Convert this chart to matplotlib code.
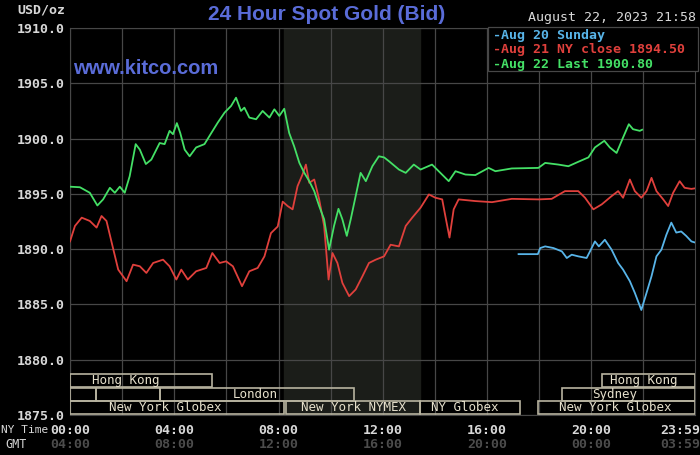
import matplotlib
matplotlib.use("Agg")
import matplotlib.pyplot as plt
import matplotlib.transforms as mtransforms
from matplotlib.patches import Rectangle

# ---- data (hours after NY midnight, USD/oz) ----
aug22_hours = [0.0, 0.38, 0.76, 1.05, 1.27, 1.53, 1.72, 1.91, 2.1, 2.29, 2.52, 2.68, 2.91, 3.12,
               3.44, 3.63, 3.82, 3.95, 4.1, 4.23, 4.4, 4.59, 4.84, 5.16, 5.42, 5.67, 5.93, 6.18,
               6.37, 6.56, 6.69, 6.88, 7.14, 7.39, 7.65, 7.84, 8.03, 8.22, 8.41, 8.6, 8.8, 8.99,
               9.18, 9.37, 9.56, 9.75, 9.94, 10.13, 10.3, 10.45, 10.62, 10.77, 10.96, 11.15, 11.35,
               11.6, 11.85, 12.05, 12.24, 12.62, 12.88, 13.19, 13.45, 13.89, 14.21, 14.53, 14.79,
               15.17, 15.55, 16.06, 16.32, 16.95, 17.97, 18.23, 18.74, 19.12, 19.5, 19.89, 20.14,
               20.5, 20.71, 20.97, 21.22, 21.44, 21.6, 21.86, 21.95]
aug22_price = [1895.65, 1895.6, 1895.1, 1893.95, 1894.5, 1895.55, 1895.1, 1895.65, 1895.1, 1896.6,
               1899.5, 1899.0, 1897.7, 1898.1, 1899.6, 1899.5, 1900.7, 1900.4, 1901.4, 1900.5,
               1899.0, 1898.4, 1899.2, 1899.5, 1900.5, 1901.45, 1902.35, 1902.95, 1903.7, 1902.5,
               1902.8, 1901.9, 1901.75, 1902.5, 1901.9, 1902.65, 1902.05, 1902.7, 1900.5, 1899.3,
               1897.8, 1896.9, 1896.15, 1895.25, 1893.9, 1892.7, 1889.95, 1892.1, 1893.65, 1892.7,
               1891.2, 1892.7, 1894.8, 1896.9, 1896.15, 1897.5, 1898.4, 1898.3, 1897.95, 1897.2,
               1896.9, 1897.65, 1897.2, 1897.65, 1896.9, 1896.15, 1897.05, 1896.75, 1896.7, 1897.35,
               1897.05, 1897.3, 1897.35, 1897.8, 1897.65, 1897.5, 1897.9, 1898.3, 1899.2, 1899.8,
               1899.2, 1898.7, 1900.1, 1901.3, 1900.85, 1900.7, 1900.8]

aug21_hours = [0.0, 0.19, 0.45, 0.76, 1.02, 1.21, 1.4, 1.66, 1.85, 2.17, 2.42, 2.68, 2.93, 3.19,
               3.57, 3.82, 4.08, 4.27, 4.52, 4.84, 5.23, 5.46, 5.74, 5.99, 6.25, 6.6, 6.88, 7.2,
               7.46, 7.71, 7.97, 8.16, 8.35, 8.54, 8.73, 8.92, 9.05, 9.18, 9.37, 9.56, 9.75, 9.92,
               10.07, 10.26, 10.45, 10.71, 10.96, 11.22, 11.47, 11.73, 12.05, 12.3, 12.62, 12.88,
               13.13, 13.45, 13.77, 14.02, 14.28, 14.4, 14.56, 14.72, 14.91, 15.55, 16.19, 16.95,
               17.97, 18.48, 18.99, 19.5, 19.76, 20.08, 20.4, 20.78, 21.03, 21.22, 21.48, 21.67,
               21.92, 22.12, 22.31, 22.5, 22.76, 22.95, 23.14, 23.39, 23.58, 23.84, 23.98]
aug21_price = [1890.7, 1892.1, 1892.85, 1892.55, 1891.95, 1893.0, 1892.55, 1890.0, 1888.15, 1887.1,
               1888.6, 1888.45, 1887.85, 1888.75, 1889.05, 1888.45, 1887.25, 1888.15, 1887.25,
               1888.0, 1888.3, 1889.65, 1888.75, 1888.9, 1888.45, 1886.65, 1888.0, 1888.3, 1889.35,
               1891.45, 1892.05, 1894.3, 1893.9, 1893.6, 1895.7, 1896.75, 1897.65, 1896.0, 1896.3,
               1894.5, 1892.1, 1887.25, 1889.65, 1888.75, 1886.95, 1885.75, 1886.35, 1887.55,
               1888.75, 1889.05, 1889.35, 1890.4, 1890.25, 1892.1, 1892.85, 1893.75, 1894.95,
               1894.65, 1894.5, 1893.0, 1891.05, 1893.6, 1894.5, 1894.35, 1894.25, 1894.55, 1894.5,
               1894.55, 1895.25, 1895.25, 1894.65, 1893.6, 1894.05, 1894.8, 1895.25, 1894.65,
               1896.3, 1895.25, 1894.65, 1895.25, 1896.45, 1895.25, 1894.5, 1893.9, 1895.1,
               1896.15, 1895.55, 1895.45, 1895.5]

aug20_hours = [17.21, 17.95, 18.04, 18.23, 18.55, 18.87, 19.06, 19.25, 19.5, 19.82, 19.95, 20.14,
               20.29, 20.52, 20.78, 21.03, 21.22, 21.48, 21.67, 21.92, 22.12, 22.31, 22.5, 22.69,
               22.88, 23.07, 23.26, 23.45, 23.64, 23.84, 23.98]
aug20_price = [1889.55, 1889.55, 1890.1, 1890.25, 1890.1, 1889.8, 1889.2, 1889.5, 1889.35, 1889.2,
               1889.8, 1890.7, 1890.25, 1890.85, 1889.95, 1888.75, 1888.15, 1887.1, 1886.05,
               1884.5, 1886.05, 1887.55, 1889.35, 1889.95, 1891.3, 1892.4, 1891.5, 1891.6, 1891.2,
               1890.7, 1890.6]

legend_labels = ["Aug 20 Sunday", "Aug 21 NY close 1894.50", "Aug 22 Last 1900.80"]
y_ticks = [1875, 1880, 1885, 1890, 1895, 1900, 1905, 1910]
tick_hours = [0, 4, 8, 12, 16, 20, 23.98]
ny_labels = ["00:00", "04:00", "08:00", "12:00", "16:00", "20:00", "23:59"]
gmt_labels = ["04:00", "08:00", "12:00", "16:00", "20:00", "00:00", "03:59"]

# market sessions: label, start hour, end hour, row (0 = bottom), label centre
session_names = ["Hong Kong", "", "", "London", "Hong Kong", "Sydney",
                 "New York Globex", "New York NYMEX", "NY Globex", "New York Globex"]
session_start = [0.0, 0.0, 0.99, 3.47, 20.42, 18.87, 0.0, 8.29, 13.42, 17.95]
session_end = [5.46, 0.99, 3.47, 10.9, 23.98, 23.98, 8.22, 13.42, 17.27, 23.98]
session_row = [2, 1, 1, 1, 2, 1, 0, 0, 0, 0]
session_mid = [2.13, 0, 0, 7.1, 22.0, 20.9, 3.65, 10.86, 15.14, 20.9]

nymex_open, nymex_close = 8.22, 13.42

# ---- styling ----
bg = "black"
grid_c = "#474747"
txt_c = "#d8d8d8"
box_c = "#b8b4a0"
box_txt = "#e6e0cc"
title_c = "#5a6cd8"
c20, c21, c22 = "#58b4e8", "#e0403c", "#44e066"
mono = "DejaVu Sans Mono"

fig = plt.figure(figsize=(7, 4.55), dpi=100, facecolor=bg)
ax = fig.add_axes([0.1, 0.0879, 0.8929, 0.8505], facecolor=bg)
ax.set_xlim(0, 23.98)
ax.set_ylim(1875, 1910)

ax.axvspan(nymex_open, nymex_close, color="#1b1d19", zorder=0)
for y in y_ticks:
    ax.axhline(y, color=grid_c, lw=0.9, zorder=1)
for h in range(0, 24, 2):
    ax.axvline(h, color=grid_c, lw=0.9, zorder=1)

for s in ax.spines.values():
    s.set_color(grid_c)
ax.tick_params(length=0)
ax.set_xticks([])
ax.set_yticks(y_ticks)
ax.set_yticklabels([f"{v:.1f}" for v in y_ticks], fontfamily=mono, fontweight="bold",
                   fontsize=9.5, color=txt_c)
ax.tick_params(axis="y", pad=4)

# price lines
ax.plot(aug21_hours, aug21_price, color=c21, lw=1.3, zorder=3)
ax.plot(aug22_hours, aug22_price, color=c22, lw=1.3, zorder=4)
ax.plot(aug20_hours, aug20_price, color=c20, lw=1.3, zorder=3)

# session bars
row_bottoms = [1875.05, 1876.25, 1877.5]
row_h = 1.2
for name, a, b, r, m in zip(session_names, session_start, session_end, session_row, session_mid):
    ax.add_patch(Rectangle((a, row_bottoms[r]), b - a, row_h, facecolor="none",
                           edgecolor=box_c, lw=1.2, zorder=5, clip_on=True))
    if name:
        ax.text(m, row_bottoms[r] + row_h / 2, name, ha="center", va="center",
                fontfamily=mono, fontsize=9, color=box_txt, zorder=6)

# watermark
ax.text(0.005, 0.895, "www.kitco.com", transform=ax.transAxes, fontfamily="Liberation Sans",
        fontweight="bold", fontsize=14.5, color=title_c, ha="left", va="center", zorder=6)

# legend box
ax.add_patch(Rectangle((0.669, 0.889), 0.335, 0.113, transform=ax.transAxes, facecolor=bg,
                       edgecolor=grid_c, lw=0.9, zorder=6, clip_on=False))
for i, (lab, c) in enumerate(zip(legend_labels, [c20, c21, c22])):
    ax.text(0.677, 0.981 - i * 0.037, "-" + lab, transform=ax.transAxes, fontfamily=mono,
            fontweight="bold", fontsize=9.5, color=c, ha="left", va="center", zorder=7)

# header texts
fig.text(327 / 700, 1 - 14 / 455, "24 Hour Spot Gold (Bid)", fontfamily="Liberation Sans",
         fontweight="bold", fontsize=15, color=title_c, ha="center", va="center")
fig.text(0.025, 1 - 10 / 455, "USD/oz", fontfamily=mono, fontweight="bold", fontsize=9.5,
         color=txt_c, ha="left", va="center")
fig.text(0.995, 1 - 17 / 455, "August 22, 2023 21:58", fontfamily=mono, fontsize=9.5,
         color=txt_c, ha="right", va="center")

# time axis labels
tr = mtransforms.blended_transform_factory(ax.transData, fig.transFigure)
for h, ny, gmt in zip(tick_hours, ny_labels, gmt_labels):
    ha = "right" if h > 23 else "center"
    xx = 23.98 + 0.2 if h > 23 else h
    ax.text(xx, 1 - 430 / 455, ny, transform=tr, fontfamily=mono, fontweight="bold",
            fontsize=9.5, color=txt_c, ha=ha, va="center", clip_on=False)
    ax.text(xx, 1 - 444 / 455, gmt, transform=tr, fontfamily=mono, fontweight="bold",
            fontsize=9.5, color="#4c4c4c", ha=ha, va="center", clip_on=False)
fig.text(1 / 700, 1 - 430 / 455, "NY Time", fontfamily=mono, fontsize=8, color=txt_c,
         ha="left", va="center")
fig.text(27 / 700, 1 - 444 / 455, "GMT", fontfamily=mono, fontsize=8.5, color=txt_c,
         ha="right", va="center")

fig.savefig("out.png", dpi=100, facecolor=bg)
